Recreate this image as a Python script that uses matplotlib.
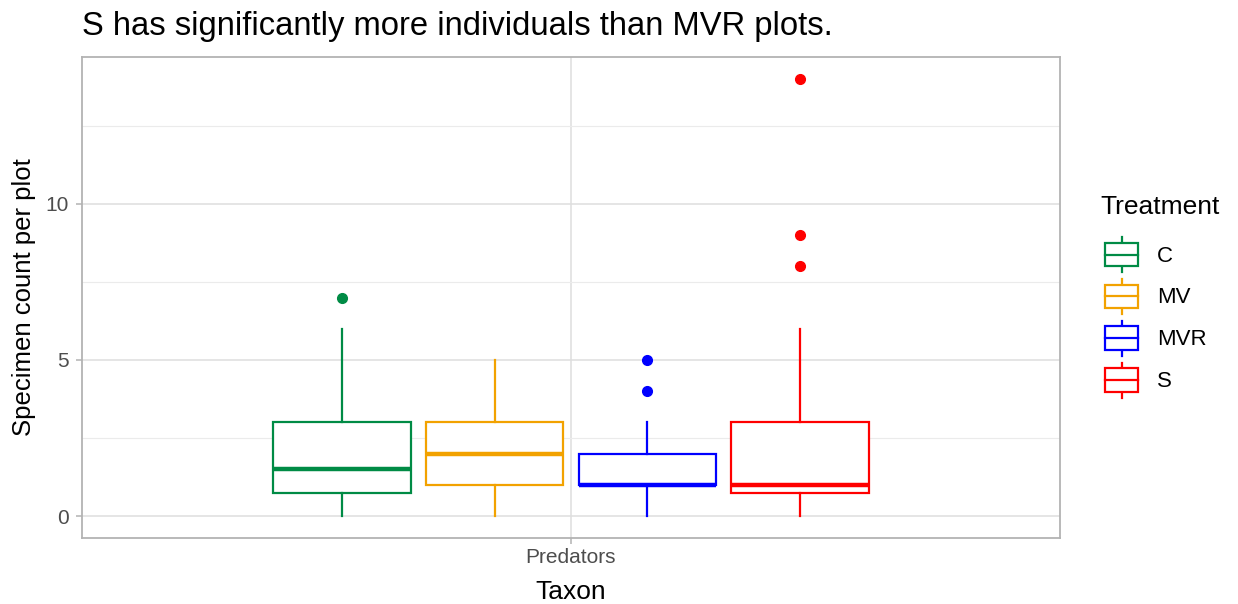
import numpy as np
import matplotlib.pyplot as plt
from matplotlib.patches import Rectangle
from matplotlib.lines import Line2D
from matplotlib.legend_handler import HandlerBase

plt.rcParams['font.family'] = ['Liberation Sans', 'DejaVu Sans']

# 数据
treatments = ["C", "MV", "MVR", "S"]
colors = ["#008B45", "#F2A200", "#0000FF", "#FF0000"]
q1 = [0.75, 1, 1, 0.75]
med = [1.5, 2, 1, 1]
q3 = [3, 3, 2, 3]
whis_lo = [0, 0, 0, 0]
whis_hi = [6, 5, 3, 6]
outliers = [[7], [], [4, 5], [8, 9, 14]]
taxon = "Predators"

# 图例里的箱线图图标
class BoxKey(HandlerBase):
    def create_artists(self, legend, orig_handle, xdescent, ydescent,
                       width, height, fontsize, trans):
        c = orig_handle.get_color()
        x0, y0 = -xdescent, -ydescent
        lw = 1.6
        xm = x0 + width / 2
        arts = [
            Line2D([xm, xm], [y0, y0 + 0.16 * height], color=c, lw=lw),
            Line2D([xm, xm], [y0 + 0.84 * height, y0 + height], color=c, lw=lw),
            Rectangle((x0, y0 + 0.16 * height), width, 0.68 * height,
                      fc="white", ec=c, lw=lw),
            Line2D([x0, x0 + width], [y0 + 0.5 * height] * 2, color=c, lw=lw),
        ]
        for a in arts:
            a.set_transform(trans)
        return arts

fig = plt.figure(figsize=(12.38, 6.04), dpi=100)
ax = fig.add_axes([82 / 1238, 66 / 604, 978 / 1238, 481 / 604])

dodge = 0.75 / 4
width = 0.9 * dodge
for i, t in enumerate(treatments):
    pos = 1 + (i - 1.5) * dodge
    st = dict(q1=q1[i], med=med[i], q3=q3[i], whislo=whis_lo[i],
              whishi=whis_hi[i], fliers=outliers[i], label=t)
    c = colors[i]
    ax.bxp([st], positions=[pos], widths=width, showcaps=False,
           patch_artist=True,
           boxprops=dict(facecolor="white", edgecolor=c, linewidth=1.6),
           whiskerprops=dict(color=c, linewidth=1.6),
           medianprops=dict(color=c, linewidth=3.2, solid_capstyle="butt"),
           flierprops=dict(marker="o", markerfacecolor=c, markeredgecolor=c,
                           markersize=7),
           zorder=3)

ax.set_xlim(0.4, 1.6)
ax.set_ylim(-0.7, 14.7)
ax.set_xticks([1])
ax.set_xticklabels([taxon])
ax.set_yticks([0, 5, 10])
ax.set_yticks([2.5, 7.5, 12.5], minor=True)

ax.grid(which="major", color="#DEDEDE", linewidth=1.1, zorder=0)
ax.grid(which="minor", axis="y", color="#EBEBEB", linewidth=0.8, zorder=0)
ax.set_axisbelow(True)
for s in ax.spines.values():
    s.set_color("#B3B3B3")
    s.set_linewidth(1.3)
ax.tick_params(which="major", colors="#B3B3B3", length=4.5, width=1.1,
               labelcolor="#4D4D4D", labelsize=15, pad=3)
ax.tick_params(axis="y", pad=5)
ax.tick_params(which="minor", length=0)

ax.set_xlabel("Taxon", fontsize=19, labelpad=9)
ax.set_ylabel("Specimen count per plot", fontsize=18.5)
ax.yaxis.set_label_coords(-46 / 978, 0.5)

fig.text(82 / 1238, 1 - 35 / 604, "S has significantly more individuals than MVR plots.",
         fontsize=23.6, ha="left", va="baseline")

# 图例
fig.text(1100 / 1238, 1 - 207 / 604, "Treatment", fontsize=19,
         ha="left", va="center")
handles = [Line2D([], [], color=c) for c in colors]
leg = fig.legend(handles, treatments, handler_map={Line2D: BoxKey()},
                 loc="upper left", bbox_to_anchor=(1105 / 1238, 1 - 237 / 604),
                 frameon=False, fontsize=16, handlelength=1.49,
                 handleheight=2.05, labelspacing=0.31, handletextpad=0.86,
                 borderaxespad=0, borderpad=0)

fig.savefig("out.png", dpi=100)
